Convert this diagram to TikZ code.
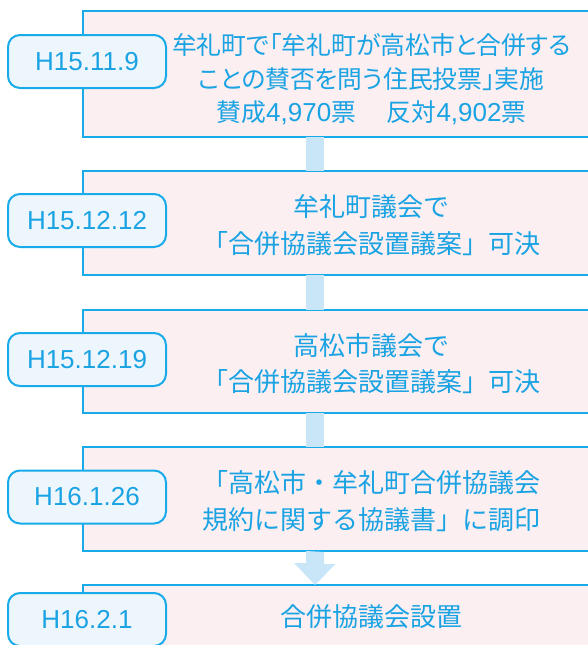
\documentclass[tikz,border=0pt]{standalone}
\usepackage{fontspec}
\setmainfont{Liberation Sans}
\newfontfamily\jp{Noto Sans CJK JP}
\newfontfamily\jpp[RawFeature=+palt]{Noto Sans CJK JP}
\definecolor{bordc}{HTML}{18ABEA}
\definecolor{txtc}{HTML}{1AA3E3}
\definecolor{boxfill}{HTML}{FCEFF2}
\definecolor{labfill}{HTML}{EEF6FD}
\definecolor{linkc}{HTML}{C8E6F8}
\newcommand{\numf}[1]{{\rmfamily\fontsize{26}{33.5}\selectfont #1}}
\begin{document}
\begin{tikzpicture}[x=1pt,y=-1pt,
  evbox/.style={draw=bordc,line width=2pt,fill=boxfill,rectangle,
    minimum width=577pt,inner sep=0pt},
  boxtext/.style={inner sep=0pt,align=center,text=txtc},
  datelab/.style={draw=bordc,line width=2pt,fill=labfill,rounded corners=12pt,
    minimum width=158pt,minimum height=53pt,inner sep=0pt,text=txtc,
    font=\fontsize{26}{26}\selectfont},
  small/.style={font=\jpp\fontsize{24.8}{33.5}\selectfont},
  big/.style={font=\jp\fontsize{26}{36.5}\selectfont},
  linkbar/.style={draw=none,fill=linkc}]
\useasboundingbox (0,0) rectangle (587,645);
\coordinate (ax) at (315,0);
% boxes
\node[evbox,minimum height=126pt] (b1) at (371.5,74) {};
\node[evbox,minimum height=104pt] (b2) at (371.5,223) {};
\node[evbox,minimum height=103pt] (b3) at (371.5,361.5) {};
\node[evbox,minimum height=104pt] (b4) at (371.5,499) {};
\node[evbox,minimum height=104pt] (b5) at (371.5,637) {};
% box texts
\node[boxtext,small] (t1) at ([yshift=-5.5pt]b1.center)
  {牟礼町で「牟礼町が高松市と合併する\\ことの賛否を問う住民投票」実施\\賛成\numf{4,970}票　\hspace{6pt}反対\numf{4,902}票};
\node[boxtext,big] (t2) at ([yshift=-2pt]b2.center)
  {牟礼町議会で\\「合併協議会設置議案」可決};
\node[boxtext,big] (t3) at ([yshift=-2pt]b3.center)
  {高松市議会で\\「合併協議会設置議案」可決};
\node[boxtext,big] (t4) at ([yshift=-2pt]b4.center)
  {「高松市・牟礼町合併協議会\\規約に関する協議書」に調印};
\node[boxtext,big] (t5) at ([yshift=-33pt]b5.north)
  {合併協議会設置};
% connectors
\path ([yshift=1pt]b1.south -| ax) ++(-9,0) coordinate (c1a);
\path ([yshift=-1pt]b2.north -| ax) ++(9,0) coordinate (c1b);
\fill[linkbar] (c1a) rectangle (c1b);
\path ([yshift=1pt]b2.south -| ax) ++(-9,0) coordinate (c2a);
\path ([yshift=-1pt]b3.north -| ax) ++(9,0) coordinate (c2b);
\fill[linkbar] (c2a) rectangle (c2b);
\path ([yshift=1pt]b3.south -| ax) ++(-9,0) coordinate (c3a);
\path ([yshift=-1pt]b4.north -| ax) ++(9,0) coordinate (c3b);
\fill[linkbar] (c3a) rectangle (c3b);
\path ([yshift=1pt]b4.south -| ax) coordinate (c4a);
\path ([yshift=-1pt]b5.north -| ax) coordinate (c4b);
\fill[linkbar] (c4a) ++(-9,0) -- ++(0,12) -- ++(-12,0) -- (c4b) -- ++(20.5,-21) -- ++(-11.5,0) -- ++(0,-12) -- cycle;
% date labels
\node[datelab] (d1) at (87,61.5) {H15.11.9};
\node[datelab] (d2) at (87,220.5) {H15.12.12};
\node[datelab] (d3) at (87,359.5) {H15.12.19};
\node[datelab] (d4) at (87,497) {H16.1.26};
\node[datelab] (d5) at (87,619.5) {H16.2.1};
\end{tikzpicture}
\end{document}
